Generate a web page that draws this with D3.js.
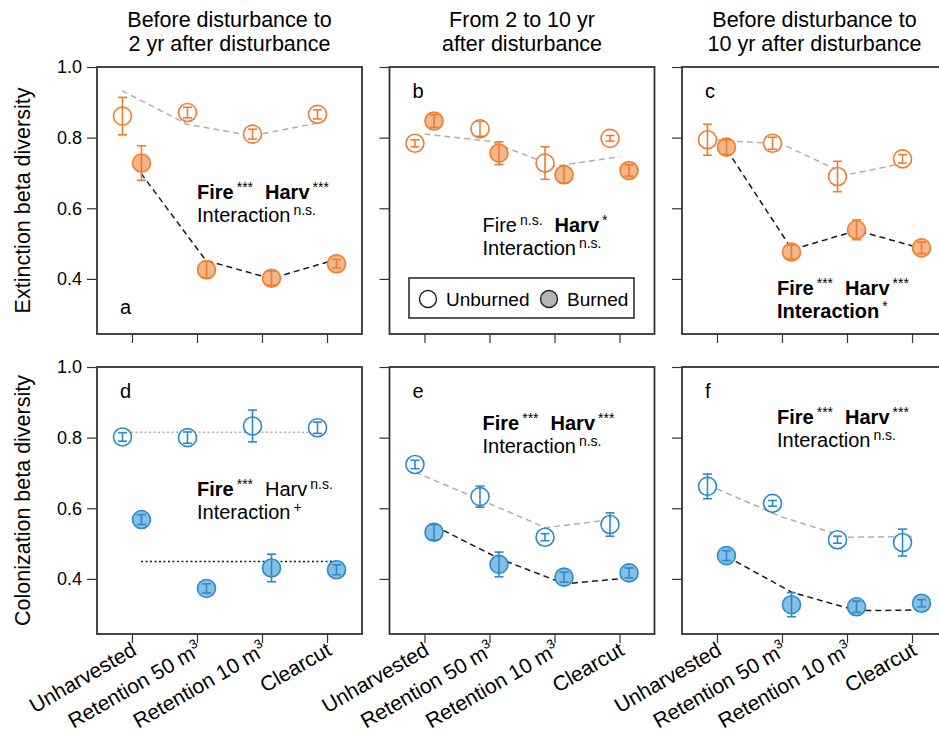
<!DOCTYPE html>
<html>
<head>
<meta charset="utf-8">
<script src="https://cdn.jsdelivr.net/npm/d3@7"></script>
<style>
  body { margin: 0; background: #fff; }
  svg { display: block; }
  text { font-family: "Liberation Sans", Arial, sans-serif; fill: #000; }
</style>
</head>
<body>
<svg id="chart" width="939" height="736"></svg>
<script>
// ---------- data ----------
const categories = ["Unharvested", "Retention 50 m3", "Retention 10 m3", "Clearcut"];
const columnTitles = [
  ["Before disturbance to", "2 yr after disturbance"],
  ["From 2 to 10 yr", "after disturbance"],
  ["Before disturbance to", "10 yr after disturbance"]
];
const rowTitles = ["Extinction beta diversity", "Colonization beta diversity"];
const panelLetters = ["a", "b", "c", "d", "e", "f"];
const yTicks = [0.4, 0.6, 0.8, 1.0];

// per panel a..f
const unburnedMean = [
  [0.861, 0.871, 0.810, 0.866],
  [0.784, 0.825, 0.728, 0.798],
  [0.794, 0.784, 0.690, 0.740],
  [0.802, 0.800, 0.833, 0.828],
  [0.724, 0.633, 0.518, 0.554],
  [0.662, 0.614, 0.511, 0.503]
];
const unburnedSE = [
  [0.053, 0.015, 0.014, 0.013],
  [0.010, 0.021, 0.046, 0.008],
  [0.044, 0.017, 0.043, 0.012],
  [0.012, 0.016, 0.045, 0.016],
  [0.012, 0.030, 0.010, 0.033],
  [0.035, 0.008, 0.010, 0.038]
];
const burnedMean = [
  [0.728, 0.426, 0.402, 0.443],
  [0.847, 0.756, 0.695, 0.707],
  [0.773, 0.476, 0.539, 0.488],
  [0.568, 0.373, 0.431, 0.426],
  [0.532, 0.441, 0.405, 0.417],
  [0.466, 0.327, 0.321, 0.331]
];
const burnedSE = [
  [0.049, 0.024, 0.020, 0.012],
  [0.018, 0.032, 0.024, 0.016],
  [0.021, 0.020, 0.028, 0.016],
  [0.014, 0.013, 0.039, 0.014],
  [0.022, 0.035, 0.014, 0.014],
  [0.014, 0.034, 0.016, 0.010]
];
// model predictions (grey = unburned, black = burned)
const unburnedFit = [
  [0.933, 0.838, 0.805, 0.841],
  [0.810, 0.790, 0.719, 0.746],
  [0.793, 0.782, 0.695, 0.732],
  [0.815, 0.815, 0.815, 0.815],
  [0.702, 0.624, 0.545, 0.568],
  [0.655, 0.575, 0.518, 0.520]
];
const burnedFit = [
  [0.699, 0.452, 0.401, 0.455],
  null,
  [0.765, 0.483, 0.537, 0.486],
  [0.449, 0.449, 0.449, 0.449],
  [0.550, 0.457, 0.386, 0.403],
  [0.463, 0.362, 0.310, 0.312]
];
const fitStyle = ["dash", "dash", "dash", "dot", "dash", "dash"];

// annotation segments: b = bold, n = normal, s = superscript
const annotations = [
  [[["Fire", "b"], ["***", "s"], ["Harv", "b"], ["***", "s"]], [["Interaction", "n"], ["n.s.", "s"]]],
  [[["Fire", "n"], ["n.s.", "s"], ["Harv", "b"], ["*", "s"]], [["Interaction", "n"], ["n.s.", "s"]]],
  [[["Fire", "b"], ["***", "s"], ["Harv", "b"], ["***", "s"]], [["Interaction", "b"], ["*", "s"]]],
  [[["Fire", "b"], ["***", "s"], ["Harv", "n"], ["n.s.", "s"]], [["Interaction", "n"], ["+", "s"]]],
  [[["Fire", "b"], ["***", "s"], ["Harv", "b"], ["***", "s"]], [["Interaction", "n"], ["n.s.", "s"]]],
  [[["Fire", "b"], ["***", "s"], ["Harv", "b"], ["***", "s"]], [["Interaction", "n"], ["n.s.", "s"]]]
];

// ---------- layout ----------
const svg = d3.select("#chart");
const panelW = 265, panelH = 267;
const colLeft = [97, 389.5, 682];
const rowTop = [67, 367];
const annotPos = [[100, 132], [93, 165], [95, 228], [100, 129], [93, 63], [95, 57]];
const fitOffset = [[-10, 9], [0, 0], [0, 10], [-10, 9], [-9, 10], [0, 10]];
const dodge = 9.5;
const rowColors = [
  {stroke: "#ee7d2e", fill: "#f5b689"},
  {stroke: "#2a8bcb", fill: "#85bfe6"}
];

for (let p = 0; p < 6; p++) {
  const row = Math.floor(p / 3), col = p % 3;
  const left = colLeft[col], top = rowTop[row];
  const x = d3.scalePoint().domain(categories).range([left, left + panelW]).padding(0.538);
  const y = d3.scaleLinear().domain([0.244, 1.0]).range([top + panelH, top]);
  const color = rowColors[row];
  const g = svg.append("g");

  // axes
  const yAxis = g.append("g")
    .attr("transform", `translate(${left},0)`)
    .call(d3.axisLeft(y).tickValues(yTicks).tickSize(10).tickPadding(5)
      .tickFormat(col === 0 ? d3.format(".1f") : () => ""));
  yAxis.select(".domain").remove();
  yAxis.selectAll("line").attr("stroke", "#333").attr("stroke-width", 1.2);
  yAxis.selectAll("text").style("font-size", "18px").attr("font-family", null);

  const xAxis = g.append("g")
    .attr("transform", `translate(0,${top + panelH})`)
    .call(d3.axisBottom(x).tickSize(9).tickFormat(() => ""));
  xAxis.select(".domain").remove();
  xAxis.selectAll("line").attr("stroke", "#333").attr("stroke-width", 1.2);

  if (row === 1) {
    categories.forEach(c => {
      const t = g.append("text")
        .attr("transform", `translate(${x(c) + 6},${top + panelH + 20}) rotate(-30)`)
        .attr("text-anchor", "end")
        .style("font-size", "21px");
      if (c.endsWith("m3")) {
        t.append("tspan").text(c.slice(0, -1));
        t.append("tspan").attr("dy", -9).style("font-size", "13px").text("3");
      } else {
        t.text(c);
      }
    });
  }

  // frame
  g.append("rect")
    .attr("x", left).attr("y", top)
    .attr("width", panelW).attr("height", panelH)
    .attr("fill", "none").attr("stroke", "#333").attr("stroke-width", 1.8);

  // fitted lines
  const dash = fitStyle[p] === "dot" ? "2,2.5" : "6,4";
  const fits = [
    {vals: unburnedFit[p], off: fitOffset[p][0], stroke: "#b0b0b0"},
    {vals: burnedFit[p], off: fitOffset[p][1], stroke: "#1a1a1a"}
  ];
  fits.forEach(f => {
    if (!f.vals) return;
    const line = d3.line().x((d, i) => x(categories[i]) + f.off).y(d => y(d));
    g.append("path").attr("d", line(f.vals))
      .attr("fill", "none").attr("stroke", f.stroke)
      .attr("stroke-width", 1.5).attr("stroke-dasharray", dash);
  });

  // points + error bars
  const groups = [
    {mean: unburnedMean[p], se: unburnedSE[p], off: -dodge, fill: "#fff"},
    {mean: burnedMean[p], se: burnedSE[p], off: dodge, fill: color.fill}
  ];
  groups.forEach(gr => {
    const pts = gr.mean.map((m, i) => ({cx: x(categories[i]) + gr.off, m, se: gr.se[i]}));
    g.selectAll(null).data(pts).enter().append("circle")
      .attr("cx", d => d.cx).attr("cy", d => y(d.m)).attr("r", 9)
      .attr("fill", gr.fill).attr("stroke", color.stroke).attr("stroke-width", 1.6);
    const eb = g.selectAll(null).data(pts).enter().append("g")
      .attr("stroke", color.stroke).attr("stroke-width", 1.6);
    eb.append("line")
      .attr("x1", d => d.cx).attr("x2", d => d.cx)
      .attr("y1", d => y(d.m - d.se)).attr("y2", d => y(d.m + d.se));
    [-1, 1].forEach(s => {
      eb.append("line")
        .attr("x1", d => d.cx - 4.5).attr("x2", d => d.cx + 4.5)
        .attr("y1", d => y(d.m + s * d.se)).attr("y2", d => y(d.m + s * d.se));
    });
  });

  // panel letter
  g.append("text")
    .attr("x", left + 23).attr("y", top + (p === 0 ? 247 : 31))
    .style("font-size", "20px").text(panelLetters[p]);

  // annotation
  const [ax, ay] = annotPos[p];
  annotations[p].forEach((segs, li) => {
    const t = g.append("text")
      .attr("x", left + ax).attr("y", top + ay + li * 22.5)
      .style("font-size", "20px");
    let prevSup = false;
    segs.forEach((s, k) => {
      const ts = t.append("tspan").text(s[0]);
      if (s[1] === "s") {
        ts.attr("dx", 3).attr("dy", -7).style("font-size", "14px");
        prevSup = true;
      } else {
        ts.style("font-weight", s[1] === "b" ? "bold" : "normal");
        if (k > 0) ts.attr("dx", prevSup ? 12 : 0).attr("dy", prevSup ? 7 : 0);
        prevSup = false;
      }
    });
  });
}

// column titles
columnTitles.forEach((lines, c) => {
  lines.forEach((l, i) => {
    svg.append("text")
      .attr("x", colLeft[c] + panelW / 2).attr("y", 27 + i * 23.5)
      .attr("text-anchor", "middle").style("font-size", "21.5px").text(l);
  });
});

// row titles
rowTitles.forEach((t, r) => {
  svg.append("text")
    .attr("transform", `translate(30,${rowTop[r] + panelH / 2}) rotate(-90)`)
    .attr("text-anchor", "middle").style("font-size", "21.5px").text(t);
});

// legend in panel b
const lg = svg.append("g").attr("transform", "translate(409,278)");
lg.append("rect").attr("width", 225).attr("height", 40)
  .attr("fill", "#fff").attr("stroke", "#222").attr("stroke-width", 1.5);
const legendItems = [
  {label: "Unburned", fill: "#fff", x: 19},
  {label: "Burned", fill: "#b5b5b5", x: 140}
];
legendItems.forEach(it => {
  lg.append("circle").attr("cx", it.x).attr("cy", 21).attr("r", 8.5)
    .attr("fill", it.fill).attr("stroke", "#222").attr("stroke-width", 1.4);
  lg.append("text").attr("x", it.x + 18).attr("y", 28)
    .style("font-size", "19px").text(it.label);
});
</script>
</body>
</html>
